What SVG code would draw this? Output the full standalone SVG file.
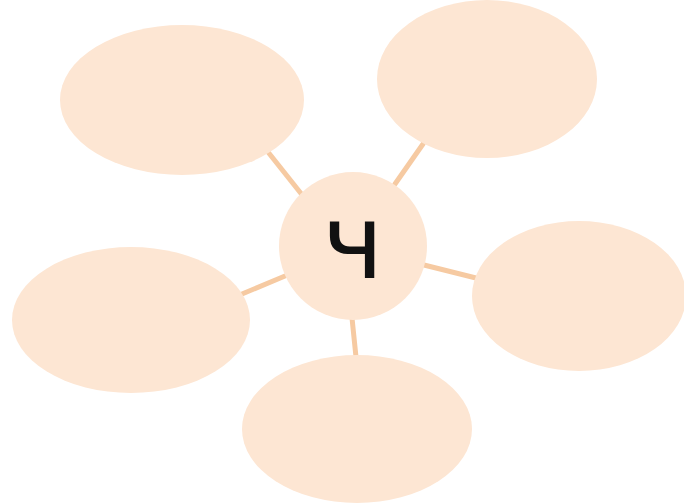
<svg xmlns="http://www.w3.org/2000/svg" width="684" height="503" viewBox="0 0 684 503">
  <style>
    .bubble { fill: #fde6d3; }
    .link { stroke: #f6caa2; stroke-width: 5; stroke-linecap: round; fill: none; }
    .letter { font-family: "DejaVu Sans", "Noto Sans", sans-serif; font-size: 104px; fill: #111; }
  </style>
  <rect width="684" height="503" fill="#ffffff"/>
  <g id="connectors">
    <line class="link" x1="268" y1="152" x2="303" y2="196"/>
    <line class="link" x1="423" y1="144" x2="395" y2="184"/>
    <line class="link" x1="242" y1="294" x2="285" y2="276"/>
    <line class="link" x1="424" y1="265" x2="488" y2="281"/>
    <line class="link" x1="352" y1="318" x2="356" y2="357"/>
  </g>
  <g id="node-top-left"><ellipse class="bubble" cx="182" cy="100" rx="122" ry="75"/></g>
  <g id="node-top-right"><ellipse class="bubble" cx="487" cy="79" rx="110" ry="79"/></g>
  <g id="node-right"><ellipse class="bubble" cx="579" cy="296" rx="107" ry="75"/></g>
  <g id="node-left"><ellipse class="bubble" cx="131" cy="320" rx="119" ry="73"/></g>
  <g id="node-bottom"><ellipse class="bubble" cx="357" cy="429" rx="115" ry="74"/></g>
  <g id="node-center">
    <circle class="bubble" cx="353" cy="246" r="74"/>
    <text class="letter" x="353" y="278" text-anchor="middle">ч</text>
  </g>
</svg>
